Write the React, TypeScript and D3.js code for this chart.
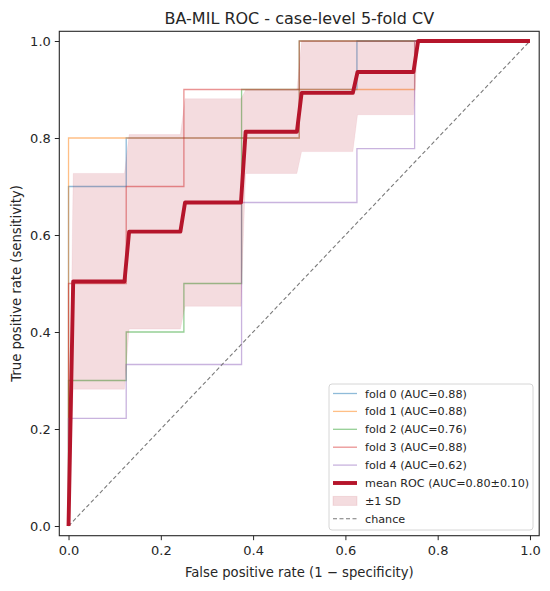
import React, { useEffect, useRef } from 'react';
import * as d3 from 'd3';

// Per-fold ROC curves (fpr, tpr)
const foldNames = ['fold 0', 'fold 1', 'fold 2', 'fold 3', 'fold 4'];
const foldAuc = [0.88, 0.88, 0.76, 0.88, 0.62];
const foldColors = ['#1f77b4', '#ff7f0e', '#2ca02c', '#d62728', '#9467bd'];

const fold0Fpr = [0, 0, 0.125, 0.125, 0.5, 0.5, 0.625, 0.625, 1];
const fold0Tpr = [0, 0.7, 0.7, 0.8, 0.8, 0.9, 0.9, 1, 1];
const fold1Fpr = [0, 0, 0.5, 0.5, 0.75, 0.75, 1];
const fold1Tpr = [0, 0.8, 0.8, 0.9, 0.9, 1, 1];
const fold2Fpr = [0, 0, 0.125, 0.125, 0.25, 0.25, 0.375, 0.375, 0.5, 0.5, 1];
const fold2Tpr = [0, 0.3, 0.3, 0.4, 0.4, 0.5, 0.5, 0.9, 0.9, 1, 1];
const fold3Fpr = [0, 0, 0.125, 0.125, 0.25, 0.25, 0.5, 0.5, 1];
const fold3Tpr = [0, 0.5, 0.5, 0.7, 0.7, 0.9, 0.9, 1, 1];
const fold4Fpr = [0, 0, 0.125, 0.125, 0.375, 0.375, 0.625, 0.625, 0.75, 0.75, 1];
const fold4Tpr = [0, 0.222, 0.222, 0.333, 0.333, 0.667, 0.667, 0.778, 0.778, 1, 1];

const foldFpr = [fold0Fpr, fold1Fpr, fold2Fpr, fold3Fpr, fold4Fpr];
const foldTpr = [fold0Tpr, fold1Tpr, fold2Tpr, fold3Tpr, fold4Tpr];

// Mean ROC and ±1 SD band
const meanFpr = [0, 0.0101, 0.1212, 0.1313, 0.2424, 0.2525, 0.3737, 0.3838, 0.4949, 0.5051, 0.6162, 0.6263, 0.7475, 0.7576, 1];
const meanTpr = [0, 0.504, 0.504, 0.607, 0.607, 0.667, 0.667, 0.813, 0.813, 0.893, 0.893, 0.936, 0.936, 1, 1];
const sdLower = [0, 0.282, 0.282, 0.406, 0.406, 0.453, 0.453, 0.727, 0.727, 0.772, 0.772, 0.848, 0.848, 1, 1];
const sdUpper = [0, 0.727, 0.727, 0.807, 0.807, 0.881, 0.881, 0.899, 0.899, 1, 1, 1, 1, 1, 1];
const meanAuc = 0.80;
const stdAuc = 0.10;

const ticks = [0, 0.2, 0.4, 0.6, 0.8, 1.0];

const MEAN_COLOR = '#b5152b';
const FONT = 'DejaVu Sans, sans-serif';
const TEXT = '#262626';

const App: React.FC = () => {
  const chartRef = useRef<SVGSVGElement>(null);

  useEffect(() => {
    if (!chartRef.current) return;
    d3.select(chartRef.current).selectAll('*').remove();

    const svg = d3.select(chartRef.current)
      .attr('width', 550)
      .attr('height', 591);

    const x = d3.scaleLinear().domain([-0.02, 1.02]).range([59.3, 539.2]);
    const y = d3.scaleLinear().domain([-0.02, 1.02]).range([535.7, 31.3]);

    svg.append('rect')
      .attr('width', 550)
      .attr('height', 591)
      .attr('fill', '#fff');

    const line = d3.line<[number, number]>()
      .x(d => x(d[0]))
      .y(d => y(d[1]));

    // fold curves
    foldFpr.forEach((fpr, i) => {
      const pts = fpr.map((f, j) => [f, foldTpr[i][j]] as [number, number]);
      svg.append('path')
        .attr('d', line(pts))
        .attr('fill', 'none')
        .attr('stroke', foldColors[i])
        .attr('stroke-opacity', 0.5)
        .attr('stroke-width', 1.3);
    });

    // ±1 SD band
    const band = d3.area<number>()
      .x((_, i) => x(meanFpr[i]))
      .y0((_, i) => y(sdLower[i]))
      .y1((_, i) => y(sdUpper[i]));
    svg.append('path')
      .attr('d', band(meanFpr))
      .attr('fill', MEAN_COLOR)
      .attr('fill-opacity', 0.15)
      .attr('stroke', MEAN_COLOR)
      .attr('stroke-opacity', 0.06);

    // chance
    svg.append('path')
      .attr('d', line([[0, 0], [1, 1]]))
      .attr('stroke', '#7a7a7a')
      .attr('stroke-width', 1.1)
      .attr('stroke-dasharray', '4,2.5');

    // mean ROC
    svg.append('path')
      .attr('d', line(meanFpr.map((f, i) => [f, meanTpr[i]] as [number, number])))
      .attr('fill', 'none')
      .attr('stroke', MEAN_COLOR)
      .attr('stroke-width', 3.9)
      .attr('stroke-linejoin', 'round');

    // axes frame
    svg.append('rect')
      .attr('x', 59.3)
      .attr('y', 31.3)
      .attr('width', 539.2 - 59.3)
      .attr('height', 535.7 - 31.3)
      .attr('fill', 'none')
      .attr('stroke', TEXT)
      .attr('stroke-width', 1.1);

    const xAxis = svg.append('g')
      .attr('transform', 'translate(0,535.7)')
      .call(d3.axisBottom(x).tickValues(ticks).tickFormat(d3.format('.1f')).tickSizeOuter(0).tickSize(4.5).tickPadding(6));
    const yAxis = svg.append('g')
      .attr('transform', 'translate(59.3,0)')
      .call(d3.axisLeft(y).tickValues(ticks).tickFormat(d3.format('.1f')).tickSizeOuter(0).tickSize(4.5).tickPadding(4));
    [xAxis, yAxis].forEach(g => {
      g.select('.domain').remove();
      g.selectAll('line').attr('stroke', TEXT);
      g.selectAll('text')
        .attr('fill', TEXT)
        .style('font-family', FONT)
        .style('font-size', '13px');
    });

    svg.append('text')
      .attr('x', 299.3)
      .attr('y', 24)
      .attr('text-anchor', 'middle')
      .style('font-family', FONT)
      .style('font-size', '16px')
      .attr('fill', TEXT)
      .text('BA-MIL ROC - case-level 5-fold CV');

    svg.append('text')
      .attr('x', 299.3)
      .attr('y', 577)
      .attr('text-anchor', 'middle')
      .style('font-family', FONT)
      .style('font-size', '13.2px')
      .attr('fill', TEXT)
      .text('False positive rate (1 \u2212 specificity)');

    svg.append('text')
      .attr('transform', 'translate(21,283.5) rotate(-90)')
      .attr('text-anchor', 'middle')
      .style('font-family', FONT)
      .style('font-size', '13.2px')
      .attr('fill', TEXT)
      .text('True positive rate (sensitivity)');

    // legend
    const legend = svg.append('g').attr('transform', 'translate(329,384)');
    legend.append('rect')
      .attr('width', 204)
      .attr('height', 146)
      .attr('rx', 3)
      .attr('fill', '#fff')
      .attr('fill-opacity', 0.8)
      .attr('stroke', '#d6d6d6');

    const rowY = (i: number) => 9.5 + i * 17.9;
    const labels = [
      ...foldNames.map((n, i) => `${n} (AUC=${foldAuc[i].toFixed(2)})`),
      `mean ROC (AUC=${meanAuc.toFixed(2)}\u00b1${stdAuc.toFixed(2)})`,
      '\u00b11 SD',
      'chance',
    ];
    foldColors.forEach((c, i) => {
      legend.append('line')
        .attr('x1', 4).attr('x2', 28)
        .attr('y1', rowY(i)).attr('y2', rowY(i))
        .attr('stroke', c)
        .attr('stroke-opacity', 0.5)
        .attr('stroke-width', 1.3);
    });
    legend.append('line')
      .attr('x1', 4).attr('x2', 28)
      .attr('y1', rowY(5)).attr('y2', rowY(5))
      .attr('stroke', MEAN_COLOR)
      .attr('stroke-width', 3.9);
    legend.append('rect')
      .attr('x', 4).attr('y', rowY(6) - 4.5)
      .attr('width', 24).attr('height', 9)
      .attr('fill', MEAN_COLOR)
      .attr('fill-opacity', 0.15)
      .attr('stroke', MEAN_COLOR)
      .attr('stroke-opacity', 0.1);
    legend.append('line')
      .attr('x1', 4).attr('x2', 28)
      .attr('y1', rowY(7)).attr('y2', rowY(7))
      .attr('stroke', '#7a7a7a')
      .attr('stroke-width', 1.1)
      .attr('stroke-dasharray', '4,2.5');

    labels.forEach((t, i) => {
      legend.append('text')
        .attr('x', 36)
        .attr('y', rowY(i) + 4)
        .style('font-family', FONT)
        .style('font-size', '11.2px')
        .attr('fill', TEXT)
        .text(t);
    });
  }, []);

  return (
    <svg ref={chartRef} style={{ position: 'absolute', left: 0, top: 0 }}></svg>
  );
};

export default App;
